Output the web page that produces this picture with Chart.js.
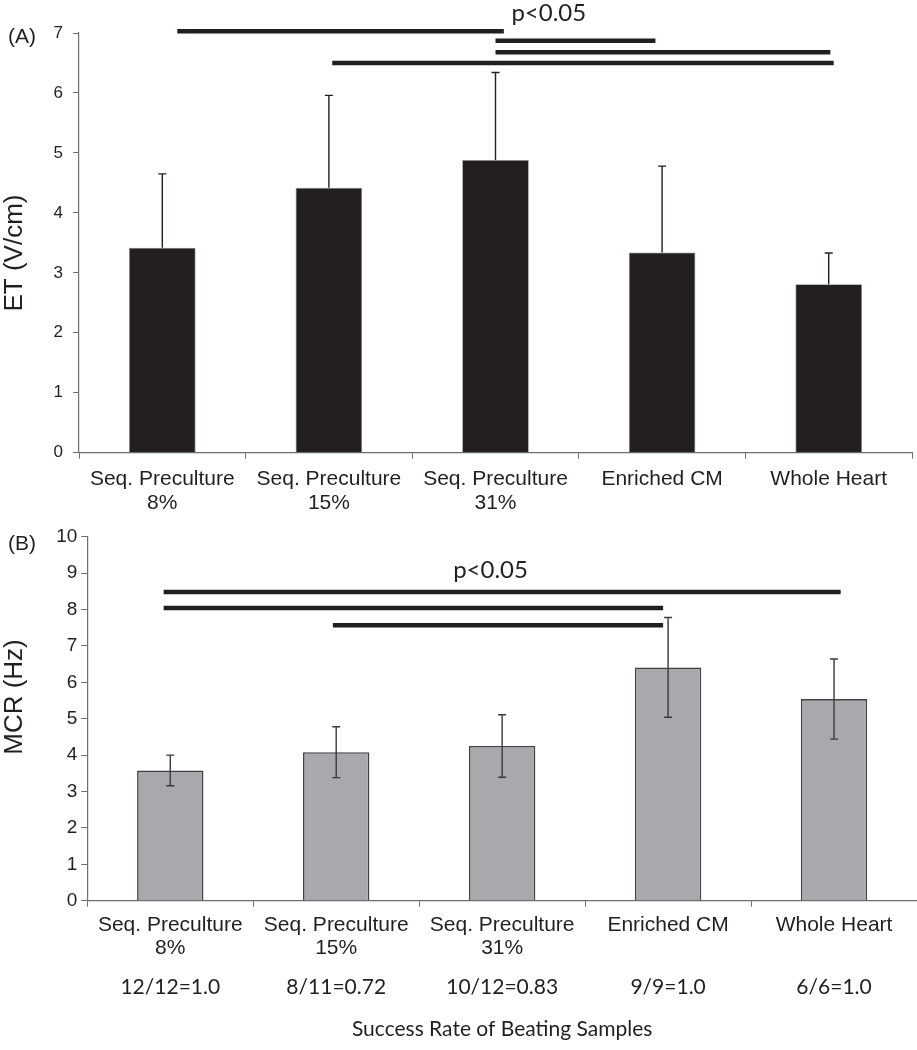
<!DOCTYPE html>
<html>
<head>
<meta charset="utf-8">
<script src="https://cdn.jsdelivr.net/npm/chart.js@4/dist/chart.umd.min.js"></script>
<style>
  body { margin: 0; background: #fff; }
  #wrapA { position: absolute; left: 0; top: 0; width: 917px; height: 520px; }
  #wrapB { position: absolute; left: 0; top: 520px; width: 917px; height: 530px; }
</style>
</head>
<body>
<div id="wrapA"><canvas id="chartA"></canvas></div>
<div id="wrapB"><canvas id="chartB"></canvas></div>
<script>
// categories shared by both panels
const groupsA = [['Seq. Preculture', '8%'], ['Seq. Preculture', '15%'], ['Seq. Preculture', '31%'], 'Enriched CM', 'Whole Heart'];
const groupsB = [['Seq. Preculture', '8%'], ['Seq. Preculture', '15%'], ['Seq. Preculture', '31%'], 'Enriched CM', 'Whole Heart'];

// panel A: excitation threshold
const etMean = [3.42, 4.42, 4.88, 3.34, 2.81];
const etErr = [1.23, 1.54, 1.46, 1.44, 0.52];

// panel B: maximum capture rate
const mcrMean = [3.58, 4.08, 4.25, 6.41, 5.54];
const mcrErr = [0.42, 0.70, 0.86, 1.37, 1.10];
const successRates = ['12/12=1.0', '8/11=0.72', '10/12=0.83', '9/9=1.0', '6/6=1.0'];

// significance bars: [from category, to category, y value]
const sigA = [[0.09, 2.05, 7.03], [2.0, 2.96, 6.87], [2.0, 4.01, 6.68], [1.02, 4.03, 6.5]];
const sigB = [[-0.04, 4.04, 8.48], [-0.04, 2.97, 8.04], [0.98, 2.97, 7.57]];

const ink = '#231f20';
const axisGrey = '#6d6e71';

// draws error bars, significance lines and panel texts
const extrasPlugin = {
    id: 'extras',
    afterDatasetsDraw(chart, args, opts) {
        const ctx = chart.ctx;
        const x = chart.scales.x;
        const y = chart.scales.y;
        const meta = chart.getDatasetMeta(0);
        ctx.save();

        // error bars
        ctx.strokeStyle = opts.errColor;
        ctx.lineWidth = 1.4;
        meta.data.forEach((bar, i) => {
            const v = opts.mean[i];
            const e = opts.err[i];
            const top = y.getPixelForValue(v + e);
            const bottom = opts.both ? y.getPixelForValue(v - e) : y.getPixelForValue(v);
            ctx.beginPath();
            ctx.moveTo(bar.x, top);
            ctx.lineTo(bar.x, bottom);
            ctx.moveTo(bar.x - 4, top);
            ctx.lineTo(bar.x + 4, top);
            if (opts.both) {
                ctx.moveTo(bar.x - 4, bottom);
                ctx.lineTo(bar.x + 4, bottom);
            }
            ctx.stroke();
        });

        // significance lines
        ctx.strokeStyle = ink;
        ctx.lineWidth = 4.5;
        opts.sig.forEach(s => {
            const py = y.getPixelForValue(s[2]);
            ctx.beginPath();
            ctx.moveTo(x.getPixelForValue(s[0]), py);
            ctx.lineTo(x.getPixelForValue(s[1]), py);
            ctx.stroke();
        });

        // p value label
        ctx.fillStyle = ink;
        ctx.font = '24px Lato';
        ctx.textAlign = 'center';
        ctx.textBaseline = 'middle';
        ctx.fillText('p<0.05', x.getPixelForValue(opts.pPos[0]), y.getPixelForValue(opts.pPos[1]));

        // panel letter
        ctx.font = '21px "Liberation Sans"';
        ctx.textAlign = 'left';
        ctx.fillText(opts.panel, 8, opts.panelY);

        // y axis title, a bit off the axis centre like the original
        ctx.save();
        ctx.translate(15, opts.yTitleY);
        ctx.rotate(-Math.PI / 2);
        ctx.textAlign = 'center';
        ctx.font = '26px "Liberation Sans"';
        ctx.fillText(opts.yTitle, 0, 0);
        ctx.restore();

        // success rates under the x labels
        if (opts.rates) {
            ctx.font = '21px Lato';
            ctx.textAlign = 'center';
            opts.rates.forEach((r, i) => {
                ctx.fillText(r, x.getPixelForValue(i), opts.ratesY);
            });
        }
        ctx.restore();
    }
};

Chart.defaults.font.family = '"Liberation Sans", Arial, sans-serif';
Chart.defaults.color = ink;

new Chart(document.getElementById('chartA'), {
    type: 'bar',
    data: {
        labels: groupsA,
        datasets: [{
            data: etMean,
            backgroundColor: ink,
            borderColor: '#8a8a8a',
            borderWidth: 0.8,
            categoryPercentage: 1,
            barPercentage: 0.4
        }]
    },
    options: {
        responsive: true,
        maintainAspectRatio: false,
        animation: false,
        layout: { padding: { top: 33, right: 5, left: 0, bottom: 0 } },
        plugins: {
            legend: { display: false },
            tooltip: { enabled: false },
            extras: {
                mean: etMean, err: etErr, both: false, errColor: ink,
                sig: sigA, pPos: [2.32, 7.33], panel: '(A)', panelY: 37,
                yTitle: 'ET (V/cm)', yTitleY: 253
            }
        },
        scales: {
            x: {
                offset: true,
                grid: { display: true, drawOnChartArea: false, offset: true, tickLength: 6, color: axisGrey },
                border: { color: axisGrey, width: 1.2 },
                ticks: { font: { size: 21, lineHeight: 1.15 }, padding: 8, maxRotation: 0, autoSkip: false },
                afterFit: s => { s.height = 67.3; }
            },
            y: {
                min: 0,
                max: 7,
                grid: { display: true, drawOnChartArea: false, tickLength: 6, color: axisGrey },
                border: { color: axisGrey, width: 1.2 },
                ticks: { stepSize: 1, font: { size: 17 }, padding: 10 },
                afterFit: s => { s.width = 79; }
            }
        }
    },
    plugins: [extrasPlugin]
});

new Chart(document.getElementById('chartB'), {
    type: 'bar',
    data: {
        labels: groupsB,
        datasets: [{
            data: mcrMean,
            backgroundColor: '#a7a9ac',
            borderColor: '#404040',
            borderWidth: 1.6,
            categoryPercentage: 1,
            barPercentage: 0.4
        }]
    },
    options: {
        responsive: true,
        maintainAspectRatio: false,
        animation: false,
        layout: { padding: { top: 16.7, right: 0, left: 0, bottom: 0 } },
        plugins: {
            legend: { display: false },
            tooltip: { enabled: false },
            extras: {
                mean: mcrMean, err: mcrErr, both: true, errColor: '#3a3a3a',
                sig: sigB, pPos: [1.93, 9.08], panel: '(B)', panelY: 24,
                yTitle: 'MCR (Hz)', yTitleY: 177,
                rates: successRates, ratesY: 467
            }
        },
        scales: {
            x: {
                offset: true,
                grid: { display: true, drawOnChartArea: false, offset: true, tickLength: 6, color: axisGrey },
                border: { color: axisGrey, width: 1.2 },
                ticks: { font: { size: 21, lineHeight: 1.1 }, padding: 7, maxRotation: 0, autoSkip: false },
                title: { display: true, text: 'Success Rate of Beating Samples', font: { family: 'Lato', size: 21 }, padding: { top: 0, bottom: 8 } },
                afterFit: s => { s.height = 149.3; }
            },
            y: {
                min: 0,
                max: 10,
                grid: { display: true, drawOnChartArea: false, tickLength: 6, color: axisGrey },
                border: { color: axisGrey, width: 1.2 },
                ticks: { stepSize: 1, font: { size: 19 }, padding: 4 },
                afterFit: s => { s.width = 87.3; }
            }
        }
    },
    plugins: [extrasPlugin]
});
</script>
</body>
</html>
